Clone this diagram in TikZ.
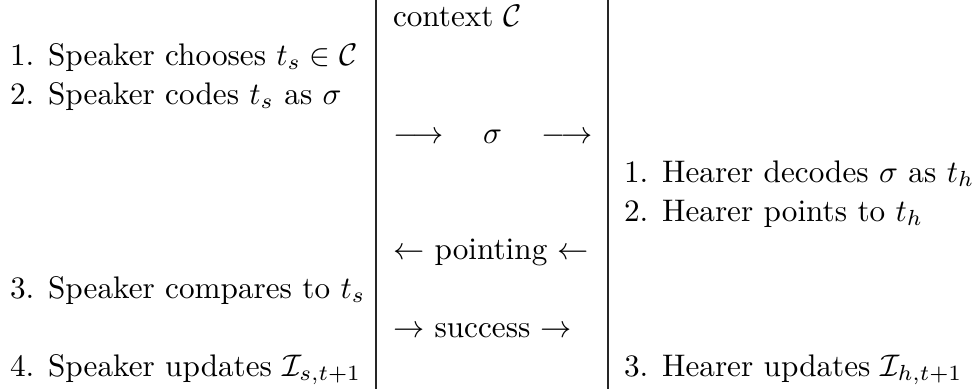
\documentclass[tikz,border=0pt]{standalone}
\usepackage{amsmath}
\usepackage{xcolor}
\tikzset{
  cell/.style={anchor=base west,inner sep=0pt,outer sep=0pt,font=\normalsize},
  rule/.style={line width=0.4pt,color=black!85},
}

\begin{document}
\begin{tikzpicture}[x=0.3205pt,y=-0.3205pt]
    \useasboundingbox (0,0) rectangle (977,389);
    % column rules
    \coordinate (r1t) at (376,0);
    \coordinate (r1b) at (376,389);
    \coordinate (r2t) at (608,0);
    \coordinate (r2b) at (608,389);
    \draw[rule] (r1t) -- (r1b);
    \draw[rule] (r2t) -- (r2b);
    % speaker
    \node[cell] (s1) at (10,65) {1. Speaker chooses $t_s\in\mathcal{C}$};
    \node[cell] (s2) at (10,104) {2. Speaker codes $t_s$ as $\sigma$};
    \node[cell] (s3) at (10,298) {3. Speaker compares to $t_s$};
    \node[cell] (s4) at (10,376) {4. Speaker updates $\mathcal{I}_{s,t+1}$};
    % channel
    \node[cell] (ctx) at (393,26) {context $\mathcal{C}$};
    \node[cell] (sig) at (393,143) {$\longrightarrow\quad\sigma\quad\longrightarrow$};
    \node[cell] (pnt) at (393,259) {$\leftarrow$ pointing $\leftarrow$};
    \node[cell] (suc) at (393,337) {$\rightarrow$ success $\rightarrow$};
    % hearer
    \node[cell] (h1) at (624,182) {1. Hearer decodes $\sigma$ as $t_h$};
    \node[cell] (h2) at (624,221) {2. Hearer points to $t_h$};
    \node[cell] (h3) at (624,376) {3. Hearer updates $\mathcal{I}_{h,t+1}$};
  \end{tikzpicture}
\end{document}
